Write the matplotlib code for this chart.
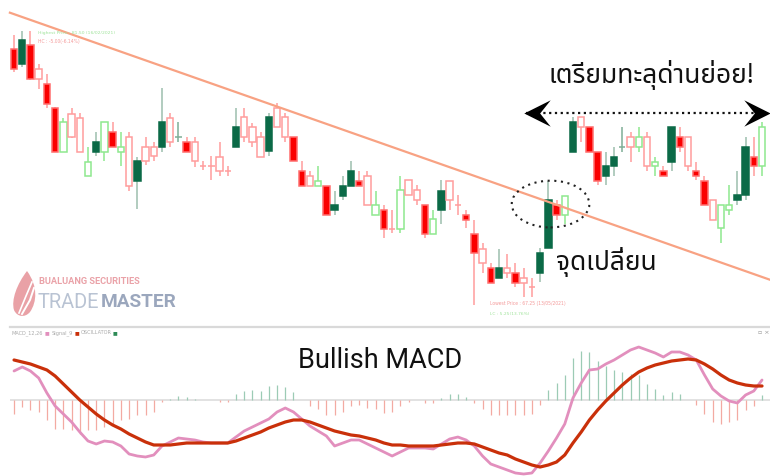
import numpy as np
import matplotlib
matplotlib.use('Agg')
import matplotlib.pyplot as plt
from matplotlib import font_manager, ft2font
from matplotlib.patches import Ellipse, PathPatch
from matplotlib.path import Path


### Data
opens = [80.55, 79.77, 80.77, 79.51, 78.74, 77.48, 75.22, 77.20, 77.00, 73.96,
         75.22, 75.22, 76.23, 75.22, 75.99, 73.70, 75.47, 75.47, 75.48, 76.99,
         75.99, 75.74, 75.74, 74.48, 74.48, 74.96, 74.23, 75.48, 77.01, 76.49,
         76.00, 75.24, 77.48, 77.01, 76.00, 74.23, 73.96, 73.45, 73.45, 72.19,
         72.93, 73.45, 73.71, 73.96, 71.93, 72.19, 71.20, 71.20, 73.75, 73.23,
         72.43, 70.94, 72.19, 73.71, 72.45, 71.93, 70.94, 70.16, 69.16, 68.67,
         69.16, 68.90, 68.67, 68.17, 68.93, 70.20, 72.45, 71.93, 75.22, 77.04,
         76.52, 75.22, 73.96, 74.48, 75.48, 76.00, 75.48, 76.00, 74.48, 74.23,
         74.70, 76.00, 76.00, 74.23, 73.71, 72.71, 71.24, 72.19, 72.71, 72.97,
         74.96, 74.48]
highs = [81.29, 81.50, 81.50, 79.77, 79.25, 77.55, 76.99, 77.48, 77.22, 75.48,
         76.23, 76.75, 76.75, 76.23, 76.23, 74.96, 75.99, 75.74, 78.52, 77.22,
         76.75, 75.99, 76.00, 74.75, 75.00, 75.74, 74.48, 77.48, 77.48, 76.73,
         76.26, 77.25, 77.74, 77.25, 76.00, 74.74, 74.22, 74.48, 73.45, 73.19,
         73.96, 74.74, 74.23, 74.23, 73.19, 72.45, 72.19, 73.96, 73.75, 73.49,
         72.43, 72.19, 73.75, 73.71, 72.97, 72.19, 71.67, 70.46, 69.42, 70.16,
         69.90, 69.42, 69.16, 68.67, 70.20, 73.71, 72.71, 72.93, 77.04, 77.04,
         76.52, 75.22, 75.22, 75.45, 76.52, 76.26, 76.52, 76.26, 74.96, 74.48,
         76.52, 76.52, 76.00, 74.70, 73.96, 72.71, 72.45, 73.49, 74.23, 76.00,
         76.00, 76.78]
lows = [79.38, 79.64, 78.95, 78.48, 77.51, 75.20, 75.20, 75.95, 75.20, 73.96,
        75.00, 74.74, 75.48, 74.49, 73.19, 72.23, 74.53, 74.74, 75.22, 75.48,
        75.74, 75.22, 74.44, 74.27, 73.75, 73.96, 73.96, 75.48, 75.74, 75.48,
        74.96, 75.00, 76.49, 75.74, 74.74, 73.45, 73.45, 73.45, 71.93, 71.93,
        72.71, 73.45, 73.45, 72.45, 71.93, 70.72, 70.98, 70.98, 72.97, 72.45,
        70.72, 70.94, 71.46, 72.19, 71.93, 71.24, 67.25, 68.90, 68.41, 68.67,
        68.67, 68.20, 67.68, 67.68, 68.46, 70.20, 71.67, 71.46, 75.22, 75.74,
        75.22, 73.49, 73.49, 73.96, 75.22, 74.70, 75.22, 74.23, 73.96, 73.96,
        74.23, 75.22, 74.23, 73.75, 72.45, 71.67, 70.46, 71.93, 72.45, 72.71,
        73.96, 73.96]
closes = [79.52, 81.05, 79.00, 79.00, 77.72, 75.22, 76.75, 75.99, 75.22, 74.70,
          75.74, 76.75, 75.48, 75.48, 73.44, 74.74, 74.74, 74.98, 76.75, 75.74,
          75.99, 75.22, 74.75, 74.48, 74.48, 74.23, 74.23, 76.49, 76.00, 75.74,
          74.96, 77.01, 76.49, 76.00, 74.74, 73.45, 73.45, 73.71, 71.93, 72.45,
          73.45, 74.23, 73.45, 72.45, 72.45, 71.20, 71.20, 73.23, 72.97, 72.71,
          70.94, 71.71, 73.19, 72.71, 72.45, 71.67, 69.94, 69.42, 68.41, 69.16,
          68.90, 68.41, 68.41, 68.17, 69.94, 72.71, 71.93, 72.93, 76.78, 76.52,
          75.22, 73.71, 74.48, 74.96, 75.48, 75.48, 76.00, 74.48, 74.70, 73.96,
          76.52, 75.48, 74.48, 73.96, 72.45, 71.67, 72.45, 72.45, 72.97, 75.48,
          74.48, 76.52]
# G = filled green, R = filled red, g = hollow green, r = hollow red
styles = ("RGRrRRgrrg" "GgRgrGrrGr" "GRrrrrrGrr" "rGrrRRrgRG" "GGRrgRrgrr"
          "RgGrrRRrRG" "rRrrGGRgGr" "RRGGGrgrgR" "GRrRRrggGG" "Rg")

macd = [0.58, 0.66, 0.58, 0.44, 0.14, -0.12, -0.28, -0.44, -0.64, -0.82,
        -0.88, -0.82, -0.84, -0.92, -1.08, -1.12, -1.14, -1.10, -0.92, -0.84,
        -0.76, -0.78, -0.80, -0.84, -0.86, -0.86, -0.86, -0.74, -0.62, -0.54,
        -0.46, -0.38, -0.24, -0.16, -0.24, -0.38, -0.52, -0.62, -0.72, -0.92,
        -0.86, -0.80, -0.80, -0.88, -0.96, -1.04, -1.12, -1.04, -0.96, -0.96,
        -0.96, -0.98, -0.88, -0.78, -0.74, -0.80, -0.92, -1.12, -1.28, -1.34,
        -1.40, -1.46, -1.48, -1.46, -1.26, -1.02, -0.76, -0.48, 0.04, 0.34,
        0.60, 0.62, 0.72, 0.80, 0.90, 1.00, 1.06, 1.00, 0.94, 0.86,
        0.96, 0.96, 0.90, 0.80, 0.50, 0.22, 0.08, -0.02, -0.06, 0.10,
        0.18, 0.40]
signal = [0.80, 0.76, 0.72, 0.66, 0.60, 0.48, 0.32, 0.16, 0.00, -0.14,
          -0.28, -0.40, -0.50, -0.58, -0.68, -0.76, -0.84, -0.90, -0.90, -0.90,
          -0.88, -0.86, -0.86, -0.86, -0.86, -0.86, -0.86, -0.82, -0.76, -0.70,
          -0.64, -0.56, -0.50, -0.44, -0.40, -0.40, -0.44, -0.50, -0.56, -0.62,
          -0.66, -0.70, -0.72, -0.76, -0.80, -0.86, -0.90, -0.90, -0.92, -0.92,
          -0.92, -0.92, -0.90, -0.88, -0.86, -0.86, -0.88, -0.94, -1.00, -1.06,
          -1.10, -1.18, -1.24, -1.30, -1.34, -1.30, -1.24, -1.10, -0.86, -0.64,
          -0.40, -0.20, -0.02, 0.14, 0.30, 0.44, 0.56, 0.64, 0.70, 0.74,
          0.78, 0.80, 0.82, 0.80, 0.72, 0.62, 0.50, 0.40, 0.34, 0.30,
          0.28, 0.28]
osc = [-0.27, -0.13, -0.20, -0.23, -0.40, -0.57, -0.57, -0.60, -0.67, -0.60,
       -0.60, -0.53, -0.47, -0.40, -0.37, -0.30, -0.30, -0.23, -0.03, 0.03,
       0.08, 0.07, 0.03, 0.01, 0.01, -0.03, -0.03, 0.13, 0.19, 0.21,
       0.19, 0.28, 0.30, 0.27, 0.17, 0.01, -0.12, -0.17, -0.30, -0.30,
       -0.23, -0.12, -0.10, -0.15, -0.17, -0.25, -0.23, -0.12, -0.03, 0.01,
       -0.05, -0.05, 0.05, 0.12, 0.12, 0.07, -0.05, -0.17, -0.30, -0.30,
       -0.30, -0.30, -0.30, -0.27, -0.10, 0.20, 0.35, 0.50, 0.85, 0.99,
       0.97, 0.79, 0.68, 0.61, 0.57, 0.52, 0.50, 0.33, 0.23, 0.10,
       0.17, 0.13, 0.01, -0.10, -0.27, -0.43, -0.47, -0.43, -0.40, -0.19,
       -0.12, 0.10]

# trend line end points (bar index, price)
trend_x = [-0.5, 92.0]
trend_y = [82.45, 68.56]


### Fonts
def installed(names, fallback='DejaVu Sans'):
    have = {f.name for f in font_manager.fontManager.ttflist}
    for n in names:
        if n in have:
            return n
    return fallback

def font_with(ch, prefer):
    found = []
    for f in font_manager.fontManager.ttflist:
        try:
            if ord(ch) in ft2font.FT2Font(f.fname).get_charmap():
                found.append(f.name)
        except Exception:
            continue
    for n in prefer:
        if n in found:
            return n
    return found[0] if found else 'DejaVu Sans'

thai_font = font_with('ต', ['Noto Sans Thai', 'Noto Sans Thai UI', 'Kanit', 'Prompt',
                            'Sarabun', 'Loma', 'Garuda', 'Waree', 'Tlwg Typo'])
latin_font = installed(['Roboto', 'Lato'])
narrow_font = installed(['Liberation Sans Narrow', 'Roboto', 'DejaVu Sans'])


### Figure
W, H = 770, 476
fig = plt.figure(figsize=(W / 100, H / 100), dpi=100)
renderer = fig.canvas.get_renderer()
x = np.arange(len(opens))

ax = fig.add_axes([10 / W, 1 - 326 / H, 760 / W, 326 / H])
ax.set_xlim(-0.49, 91.97)
ax.set_ylim(66.16, 83.11)
ax.axis('off')

colors = {'G': ('#0b6a47', '#0b6a47', '#9cbfae'),
          'R': ('#fa0000', '#ff6e6e', '#ff9c9c'),
          'g': ('white', '#8ee88e', '#8ee88e'),
          'r': ('white', '#ff9c9c', '#ff9c9c')}
bw = 0.78
for i in x:
    o, h, l, c = opens[i], highs[i], lows[i], closes[i]
    face, edge, wick = colors[styles[i]]
    top, bot = max(o, c), min(o, c)
    if top == bot:
        cc = '#7fae96' if styles[i] == 'G' else wick
        ax.vlines(i, l, h, color=cc, lw=1.1, zorder=2)
        ax.hlines(top, i - bw / 2, i + bw / 2, color=cc, lw=1.1, zorder=2)
        continue
    ax.vlines(i, top, h, color=wick, lw=1.1, zorder=2)
    ax.vlines(i, l, bot, color=wick, lw=1.1, zorder=2)
    ax.bar(i, top - bot, bottom=bot, width=bw, color=face, edgecolor=edge,
           linewidth=1.1, zorder=3)

ax.plot(trend_x, trend_y, color='#f8a283', lw=1.6, zorder=4, clip_on=False)

ax.add_patch(Ellipse((65.27, 72.50), 9.44, 2.43, fill=False, ls=(0, (1, 2.2)),
                     lw=1.5, color='#222222', zorder=5))

# dotted double arrow
arrow_y = 77.22
ax.plot([62.3, 91.7], [arrow_y, arrow_y], color='#111111', lw=1.6,
        ls=(0, (1, 1.6)), zorder=5, clip_on=False)
head_l = Path([(-1, 0), (1, 1), (0.2, 0), (1, -1), (-1, 0)],
              [Path.MOVETO, Path.LINETO, Path.LINETO, Path.LINETO, Path.CLOSEPOLY])
head_r = Path([(1, 0), (-1, 1), (-0.2, 0), (-1, -1), (1, 0)],
              [Path.MOVETO, Path.LINETO, Path.LINETO, Path.LINETO, Path.CLOSEPOLY])
ax.plot([63.6], [arrow_y], marker=head_l, ms=19, color='black', mew=0, zorder=6, clip_on=False)
ax.plot([90.4], [arrow_y], marker=head_r, ms=19, color='black', mew=0, zorder=6, clip_on=False)

# MACD pane
ax2 = fig.add_axes([10 / W, 0, 760 / W, 148 / H])
ax2.set_xlim(-0.49, 91.97)
ax2.set_ylim(-1.52, 1.44)
ax2.axis('off')
ax2.axhline(0, color='#dddddd', lw=1.2, zorder=1)
osc = np.array(osc)
ax2.vlines(x[osc >= 0], 0, osc[osc >= 0], color='#9ccbb5', lw=0.9, zorder=2)
ax2.vlines(x[osc < 0], 0, osc[osc < 0], color='#f3aaa2', lw=0.9, zorder=2)
ax2.plot(x, macd, color='#e28fbd', lw=2.0, zorder=3, solid_capstyle='round')
ax2.plot(x, signal, color='#c9300a', lw=2.3, zorder=4, solid_capstyle='round')


### Overlay in pixel units for labels and logo
ov = fig.add_axes([0, 0, 1, 1])
ov.set_xlim(0, W)
ov.set_ylim(H, 0)
ov.axis('off')
ov.plot([10, W], [327, 327], color='#d9d9d9', lw=1.6)

def fit(t, width):
    # shrink or grow a text so that it is `width` pixels wide
    w = t.get_window_extent(renderer).width
    t.set_fontsize(t.get_fontsize() * width / w)
    return t

def run(x0, y0, parts, size):
    # texts placed one after another on a line
    for s, col in parts:
        t = ov.text(x0, y0, s, fontsize=size, color=col, va='center')
        x0 += t.get_window_extent(renderer).width + 1.5

fit(ov.text(38, 33, 'Highest Price : 81.50 (16/02/2021)', fontsize=4.3, color='#9fe39a',
            va='center'), 78)
fit(ov.text(38, 42, 'HC : -5.00(-6.14%)', fontsize=4.3, color='#f49a9a', va='center'), 42)
fit(ov.text(490, 304, 'Lowest Price : 67.25 (13/05/2021)', fontsize=4.3, color='#f49a9a',
            va='center'), 77)
fit(ov.text(490, 314, 'LC : 5.25(13.76%)', fontsize=4.3, color='#9fe39a', va='center'), 40)

run(12, 333, [('MACD_12,26', '#aaaaaa'), ('■', '#e28fbd'), ('Signal_9', '#aaaaaa'),
              ('■', '#c9300a'), ('OSCILLATOR', '#aaaaaa'), ('■', '#2e8b57')], 3.6)
ov.text(758, 332, '▫ ×', fontsize=4.5, color='#999999', va='center')

ov.text(651, 75, 'เตรียมทะลุด่านย่อย!', family=[thai_font, 'DejaVu Sans'], fontsize=19,
        color='#111111', ha='center', va='center')
ov.text(606, 262, 'จุดเปลี่ยน', family=[thai_font, 'DejaVu Sans'], fontsize=19,
        color='#111111', ha='center', va='center')
ov.text(380, 360, 'Bullish MACD', family=latin_font, fontsize=19.5, color='#111111',
        ha='center', va='center')

# logo
fit(ov.text(39, 282, 'BUALUANG SECURITIES', family=narrow_font, fontsize=8, weight='bold',
            color='#eaa2a8', va='center'), 101)
t1 = fit(ov.text(38, 302, 'TRADE', family=narrow_font, fontsize=17, color='#b9c3d3',
                 va='center'), 62)
t2 = fit(ov.text(101, 302, 'MASTER', family=narrow_font, fontsize=17, weight='bold',
                 color='#9ba7bd', va='center'), 76)
flame = Path([(27, 271), (38, 286), (37, 302), (30, 312), (25, 318), (17, 317),
              (14, 310), (11, 300), (17, 284), (27, 271)],
             [Path.MOVETO] + [Path.CURVE4] * 9)
ov.add_patch(PathPatch(flame, facecolor='#e9a1a6', edgecolor='none'))
ov.plot([22, 30, 34], [314, 300, 288], color='white', lw=1.4)
ov.plot([19, 26, 32], [313, 296, 282], color='white', lw=1.2)

fig.savefig('out.png', dpi=100)
